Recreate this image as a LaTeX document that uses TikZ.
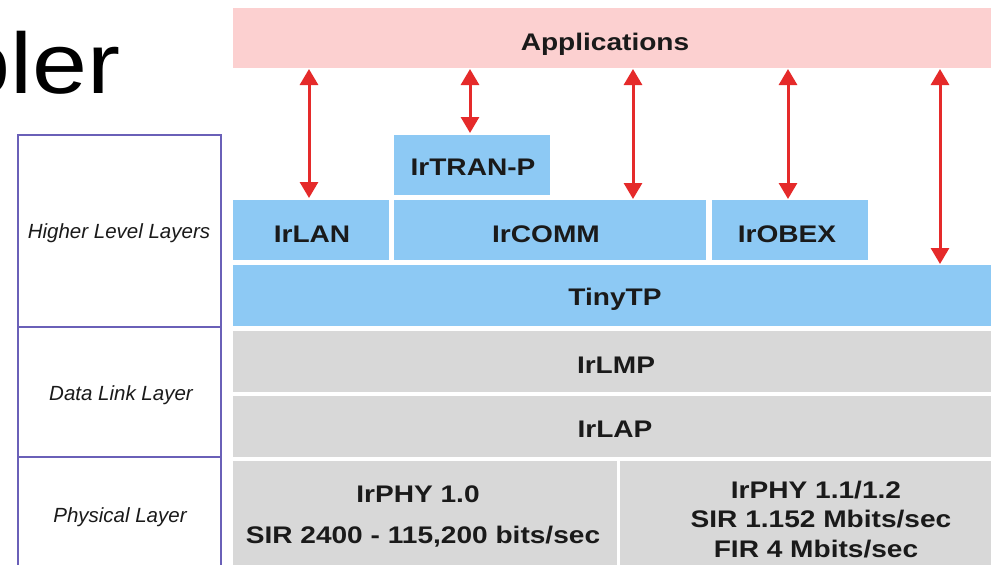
\documentclass[tikz,border=0pt]{standalone}
\usepackage{fontspec}
\usepackage{graphicx}
\setmainfont{Liberation Sans}
\usetikzlibrary{arrows.meta}
\definecolor{pinkbox}{HTML}{FCD0D0}
\definecolor{bluebox}{HTML}{8DC9F4}
\definecolor{graybox}{HTML}{D8D8D8}
\definecolor{arrowred}{HTML}{E52A2A}
\definecolor{tableline}{HTML}{6A60B8}
\definecolor{inkcol}{HTML}{1A1A1A}
\newcommand{\wtxt}[1]{\scalebox{1.17}[1]{#1}}
\begin{document}
\begin{tikzpicture}[x=1pt,y=-1pt,
  blk/.style={inner sep=0pt, outer sep=0pt, anchor=north west},
  lbl/.style={inner sep=0pt, anchor=base, text=inkcol, font=\fontsize{24}{28}\selectfont\bfseries},
  side/.style={inner sep=0pt, anchor=base, text=inkcol, font=\fontsize{20.5}{24}\selectfont\itshape},
  cell/.style={draw=tableline, line width=1.4pt, inner sep=0pt, outer sep=0pt, anchor=north west, minimum width=203pt},
  arr/.style={draw=arrowred, line width=3pt, {Triangle[width=18pt,length=16pt]}-{Triangle[width=18pt,length=16pt]}}
]
\useasboundingbox (0,0) rectangle (991,565);
\fill[white] (0,0) rectangle (991,565);
\clip (0,0) rectangle (991,565);

% title fragment
\node[anchor=base east, inner sep=0pt, text=black] (title) at (121,93)
  {\scalebox{1.15}[1]{\fontsize{86}{90}\selectfont bler}};

% left table
\node[cell, minimum height=192pt] (c1) at (18,135) {};
\node[cell, minimum height=130pt] (c2) at (18,327) {};
\node[cell, minimum height=120pt] (c3) at (18,457) {};
\node[side] (t1) at (119,238) {Higher Level Layers};
\node[side] (t2) at (121,400) {Data Link Layer};
\node[side] (t3) at (120,522) {Physical Layer};

% boxes
\node[blk, fill=pinkbox, minimum width=758pt, minimum height=60pt] (apps) at (233,8) {};
\node[blk, fill=bluebox, minimum width=156pt, minimum height=60pt] (irtran) at (394,135) {};
\node[blk, fill=bluebox, minimum width=156pt, minimum height=60pt] (irlan) at (233,200) {};
\node[blk, fill=bluebox, minimum width=312pt, minimum height=60pt] (ircomm) at (394,200) {};
\node[blk, fill=bluebox, minimum width=156pt, minimum height=60pt] (irobex) at (712,200) {};
\node[blk, fill=bluebox, minimum width=758pt, minimum height=61pt] (tinytp) at (233,265) {};
\node[blk, fill=graybox, minimum width=758pt, minimum height=61pt] (irlmp) at (233,331) {};
\node[blk, fill=graybox, minimum width=758pt, minimum height=61pt] (irlap) at (233,396) {};
\node[blk, fill=graybox, minimum width=384pt, minimum height=104pt] (phya) at (233,461) {};
\node[blk, fill=graybox, minimum width=371pt, minimum height=104pt] (phyb) at (620,461) {};

% labels
\node[lbl] (tapps) at (605,50) {\wtxt{Applications}};
\node[lbl] (tirtran) at (473,175) {\wtxt{IrTRAN-P}};
\node[lbl] (tirlan) at (312,242) {\wtxt{IrLAN}};
\node[lbl] (tircomm) at (546,242) {\wtxt{IrCOMM}};
\node[lbl] (tirobex) at (787,242) {\wtxt{IrOBEX}};
\node[lbl] (ttiny) at (615,305) {\wtxt{TinyTP}};
\node[lbl] (tirlmp) at (616,373) {\wtxt{IrLMP}};
\node[lbl] (tirlap) at (615,437) {\wtxt{IrLAP}};
\node[lbl] (tphya1) at (418,502) {\wtxt{IrPHY 1.0}};
\node[lbl] (tphya2) at (423,543) {\wtxt{SIR 2400 - 115,200 bits/sec}};
\node[lbl] (tphyb1) at (816,498) {\wtxt{IrPHY 1.1/1.2}};
\node[lbl] (tphyb2) at (821,527) {\wtxt{SIR 1.152 Mbits/sec}};
\node[lbl] (tphyb3) at (816,557) {\wtxt{FIR 4 Mbits/sec}};

% arrow columns
\coordinate (k1) at (309,0);
\coordinate (k2) at (470,0);
\coordinate (k3) at (633,0);
\coordinate (k4) at (788,0);
\coordinate (k5) at (940,0);
\draw[arr, shorten <=1pt, shorten >=2pt] (k1 |- apps.south) -- (k1 |- irlan.north);
\draw[arr, shorten <=1pt, shorten >=2pt] (k2 |- apps.south) -- (k2 |- irtran.north);
\draw[arr, shorten <=1pt, shorten >=1pt] (k3 |- apps.south) -- (k3 |- ircomm.north);
\draw[arr, shorten <=1pt, shorten >=1pt] (k4 |- apps.south) -- (k4 |- irobex.north);
\draw[arr, shorten <=1pt, shorten >=1pt] (k5 |- apps.south) -- (k5 |- tinytp.north);
\end{tikzpicture}
\end{document}
